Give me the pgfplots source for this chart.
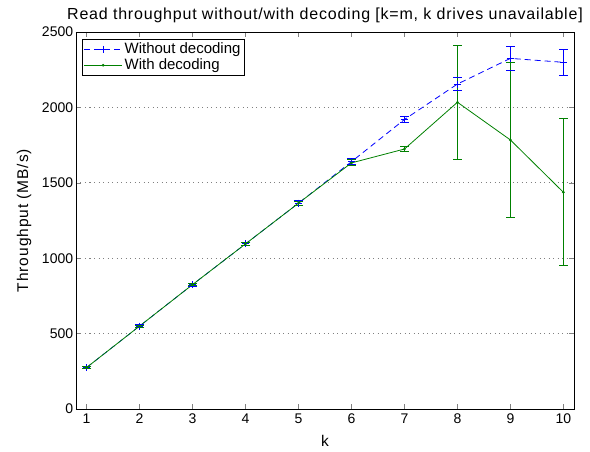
\documentclass[border=0pt]{standalone}
\usepackage{pgfplots}
\pgfplotsset{compat=1.18}
\usepackage{pgfplotstable}
\usepackage{fontspec}
\setmainfont{Liberation Sans}
\newfontfamily\titlefont[LetterSpace=5]{Liberation Sans}
\newfontfamily\labelfont[LetterSpace=6]{Liberation Sans}
\definecolor{mblue}{rgb}{0,0,1}
\definecolor{mgreen}{rgb}{0,0.5,0}
\pgfplotstableread{
k v e
1 275 8
2 550 8
3 825 10
4 1095 12
5 1365 15
6 1640 20
7 1920 22
8 2155 40
9 2325 82
10 2299 88
}\without
\pgfplotstableread{
k v e
1 275 6
2 550 7
3 825 9
4 1095 11
5 1365 14
6 1632 20
7 1724 14
8 2034 378
9 1784 516
10 1437 488
}\withdec
\begin{document}
\fontsize{14}{16}\selectfont
\begin{tikzpicture}
\begin{axis}[
  name=ax,
  at={(0,0)}, anchor=south west,
  scale only axis,
  width=498pt, height=377pt,
  xmin=0.8, xmax=10.2, ymin=0, ymax=2500,
  xtick={1,2,...,10},
  ytick={0,500,1000,1500,2000,2500},
  tick align=inside,
  major tick length=5pt,
  tick style={line width=0.5pt},
  axis line style={line width=0.8pt},
  /pgf/number format/assume math mode=true,
  /pgf/number format/1000 sep={},
  tick label style={font=\fontsize{14}{16}\selectfont},
  yticklabel style={xshift=2pt},
  xlabel style={font=\labelfont\fontsize{15.5}{17}\selectfont, yshift=-2pt},
  ylabel style={font=\labelfont\fontsize{15.5}{17}\selectfont, yshift=1pt},
  title style={font=\titlefont\fontsize{16}{18}\selectfont, yshift=-2pt},
  ymajorgrids,
  major grid style={gray, dash pattern=on 1pt off 3.5pt, line width=0.7pt},
  xlabel={k},
  ylabel={Throughput (MB/s)},
  title={Read throughput without/with decoding [k=m, k drives unavailable]},
  legend style={at={(0,1)}, anchor=north west, xshift=6pt, yshift=-7pt,
    font=\fontsize{15}{17}\selectfont, draw=black, line width=0.6pt,
    inner sep=1.5pt, row sep=-1pt, cells={anchor=west}},
  legend cell align=left,
  legend image code/.code={
    \draw[#1, mark repeat=2, mark phase=2] plot coordinates {(0pt,0pt) (19pt,0pt) (38pt,0pt)};
  },
]
% error bar lines
\addplot[mblue, solid, line width=0.8pt, draw=none, forget plot,
  error bars/y dir=both, error bars/y explicit, error bars/error mark=none,
  error bars/error bar style={draw=mblue, solid, line width=0.8pt}]
  table[x=k, y=v, y error=e] {\without};
\addplot[mgreen, solid, line width=0.8pt, draw=none, forget plot,
  error bars/y dir=both, error bars/y explicit, error bars/error mark=none,
  error bars/error bar style={draw=mgreen, solid, line width=0.8pt}]
  table[x=k, y=v, y error=e] {\withdec};
% caps
\addplot[mblue, only marks, mark=-, mark size=4.5pt, line width=1pt, forget plot]
  table[x=k, y expr=\thisrow{v}+\thisrow{e}] {\without};
\addplot[mblue, only marks, mark=-, mark size=4.5pt, line width=1pt, forget plot]
  table[x=k, y expr=\thisrow{v}-\thisrow{e}] {\without};
\addplot[mgreen, only marks, mark=-, mark size=4.5pt, line width=1pt, forget plot]
  table[x=k, y expr=\thisrow{v}+\thisrow{e}] {\withdec};
\addplot[mgreen, only marks, mark=-, mark size=4.5pt, line width=1pt, forget plot]
  table[x=k, y expr=\thisrow{v}-\thisrow{e}] {\withdec};
% lines
\addplot[color=mblue, dash pattern=on 6pt off 4pt, line width=0.8pt,
  mark=+, mark size=3.5pt, mark options={solid}]
  table[x=k, y=v] {\without};
\addlegendentry{Without decoding}
\addplot[color=mgreen, solid, line width=0.8pt,
  mark=*, mark size=0.9pt]
  table[x=k, y=v] {\withdec};
\addlegendentry{With decoding}
\end{axis}
\path[use as bounding box] ([xshift=-76pt,yshift=-37pt]ax.south west) rectangle ([xshift=16pt,yshift=32pt]ax.north east);
\end{tikzpicture}
\end{document}
